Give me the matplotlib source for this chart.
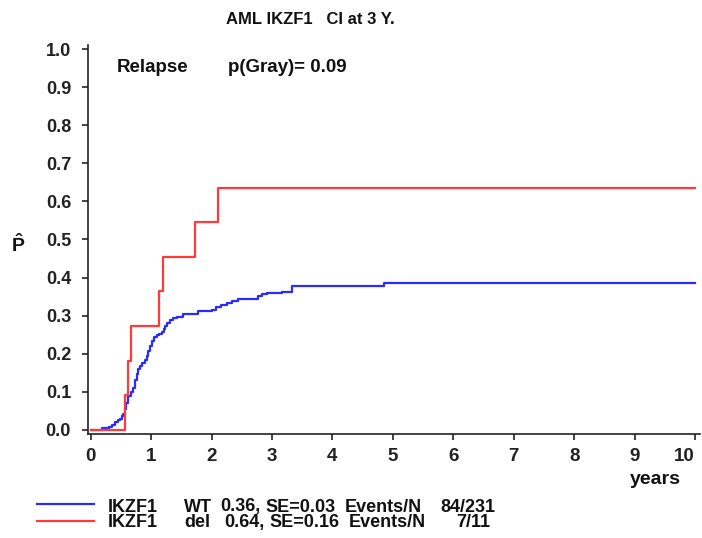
import matplotlib
matplotlib.use("Agg")
import matplotlib.pyplot as plt
from matplotlib import font_manager
from matplotlib.lines import Line2D
from matplotlib.transforms import ScaledTranslation

# ---- data ----
wt_time = [0, 0.19, 0.31, 0.36, 0.40, 0.45, 0.48, 0.51, 0.53, 0.56, 0.59, 0.62, 0.66, 0.70,
           0.73, 0.76, 0.79, 0.81, 0.85, 0.90, 0.93, 0.95, 0.98, 1.01, 1.04, 1.09, 1.13, 1.18,
           1.21, 1.23, 1.27, 1.31, 1.36, 1.42, 1.53, 1.78, 2.00, 2.08, 2.16, 2.25, 2.34, 2.44,
           2.77, 2.84, 2.91, 3.16, 3.33, 4.85, 10]
wt_cuminc = [0, 0.004, 0.009, 0.013, 0.020, 0.026, 0.030, 0.036, 0.042, 0.055, 0.070, 0.090,
             0.100, 0.110, 0.130, 0.147, 0.160, 0.169, 0.176, 0.183, 0.195, 0.208, 0.220, 0.234,
             0.243, 0.250, 0.252, 0.256, 0.265, 0.273, 0.282, 0.290, 0.293, 0.297, 0.304, 0.312,
             0.314, 0.323, 0.328, 0.333, 0.338, 0.343, 0.352, 0.356, 0.360, 0.363, 0.378, 0.386,
             0.386]
del_time = [0, 0.57, 0.61, 0.67, 1.13, 1.19, 1.72, 2.11, 10]
del_cuminc = [0, 0.091, 0.182, 0.273, 0.364, 0.455, 0.545, 0.636, 0.636]

x_ticks = [0, 1, 2, 3, 4, 5, 6, 7, 8, 9, 10]
y_ticks = [0.0, 0.1, 0.2, 0.3, 0.4, 0.5, 0.6, 0.7, 0.8, 0.9, 1.0]

title = "AML IKZF1   CI at 3 Y."
endpoint = "Relapse"
pval_text = "p(Gray)= 0.09"
legend_rows = [
    ["IKZF1", "WT", "0.36,", "SE=0.03", "Events/N", "84/231"],
    ["IKZF1", "del", "0.64,", "SE=0.16", "Events/N", "7/11"],
]
legend_x = [
    [108, 184, 220, 265, 345, 440],
    [108, 184, 224, 269, 349, 456],
]

# ---- fonts ----
avail = {f.name for f in font_manager.fontManager.ttflist}
narrow = "Liberation Sans Narrow" if "Liberation Sans Narrow" in avail else "Liberation Sans"
regular = "Liberation Sans"

plt.rcParams["mathtext.fontset"] = "custom"
plt.rcParams["mathtext.rm"] = "Liberation Sans:bold"
plt.rcParams["mathtext.it"] = "Liberation Sans:bold"
plt.rcParams["mathtext.bf"] = "Liberation Sans:bold"

W, H = 702, 538
fig = plt.figure(figsize=(W / 100, H / 100), dpi=100)
fig.patch.set_facecolor("white")

def fx(px):
    return px / W

def fy(py):
    return 1 - py / H

left, right, top, bottom = 87.7, 700, 45, 434.3
ax = fig.add_axes([fx(left), fy(bottom), (right - left) / W, (bottom - top) / H])

blue = "#2b2bff"
red = "#ff3a3a"
ax.step(wt_time, wt_cuminc, where="post", color=blue, lw=1.6, zorder=3)
ax.step(del_time, del_cuminc, where="post", color=red, lw=1.6, zorder=4)

ax.set_xlim(-0.05, 10.083)
ax.set_ylim(-0.0113, 1.0105)
ax.set_xticks(x_ticks)
ax.set_yticks(y_ticks)
ax.set_xticklabels([str(t) for t in x_ticks], fontfamily=narrow, fontweight="bold",
                   fontsize=13.5, color="#111111")
ax.set_yticklabels([f"{t:.1f}" for t in y_ticks], fontfamily=regular, fontweight="bold",
                   fontsize=13, color="#111111")
last = ax.get_xticklabels()[-1]
last.set_horizontalalignment("right")
last.set_transform(last.get_transform() + ScaledTranslation(5 / 100, 0, fig.dpi_scale_trans))

for s in ["top", "right"]:
    ax.spines[s].set_visible(False)
for s in ["left", "bottom"]:
    ax.spines[s].set_linewidth(1.2)
    ax.spines[s].set_color("#222222")
ax.tick_params(axis="y", direction="out", length=4, width=1.2, pad=8, colors="#222222")
ax.tick_params(axis="x", direction="out", length=4, width=1.2, pad=6, colors="#222222")

# texts
fig.text(fx(310), fy(19), title, ha="center", va="center", fontfamily=regular,
         fontweight="bold", fontsize=12, color="#111111")
fig.text(fx(116.7), fy(67), endpoint, ha="left", va="center", fontfamily=regular,
         fontweight="bold", fontsize=13.5, color="#111111")
fig.text(fx(227.7), fy(67), pval_text, ha="left", va="center", fontfamily=regular,
         fontweight="bold", fontsize=13.5, color="#111111")
fig.text(fx(18), fy(245), r"$\hat{\mathrm{P}}$", ha="center", va="center",
         fontsize=14, color="#111111")
fig.text(fx(655), fy(484), "years", ha="center", va="baseline", fontfamily=narrow,
         fontweight="bold", fontsize=14, color="#111111")

# legend
line_y = [504, 520.5]
text_y = [507, 522.5]
colors = [blue, red]
for i in range(2):
    fig.add_artist(Line2D([fx(37), fx(94)], [fy(line_y[i]), fy(line_y[i])],
                          color=colors[i], lw=1.6, transform=fig.transFigure))
    for tok, xp in zip(legend_rows[i], legend_x[i]):
        fig.text(fx(xp), fy(text_y[i]), tok, ha="left", va="center", fontfamily=narrow,
                 fontweight="bold", fontsize=13, color="#111111")

fig.savefig("out.png", dpi=100)
